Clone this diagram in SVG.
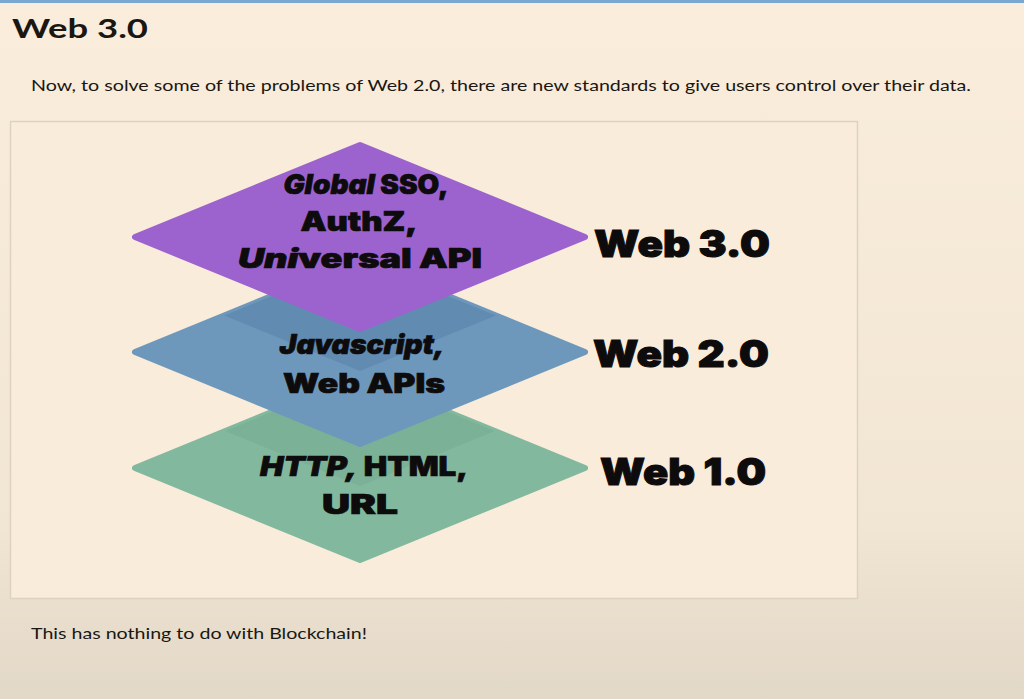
<svg xmlns="http://www.w3.org/2000/svg" width="1024" height="699" viewBox="0 0 1024 699">
  <defs>
    <linearGradient id="bg" x1="0" y1="0" x2="0" y2="1">
      <stop offset="0" stop-color="#faeddc"/>
      <stop offset="0.75" stop-color="#f1e5d3"/>
      <stop offset="1" stop-color="#e2d8c7"/>
    </linearGradient>
    <clipPath id="clipBlue"><polygon points="360,260 585,352 360,444 135,352"/></clipPath>
    <clipPath id="clipGreen"><polygon points="360,376 585,468 360,560 135,468"/></clipPath>
    <style>
      .doc { font-family: "Lato", "Liberation Sans", sans-serif; fill: #1a1712; }
      .lbl { font-family: "Inter", "Liberation Sans", sans-serif; font-weight: 900; fill: #0d0b0b; stroke: #0d0b0b; stroke-width: 0.7; text-anchor: middle; font-size: 27px; }
      .ver { font-family: "Inter", "Liberation Sans", sans-serif; font-weight: 900; fill: #0d0b0b; stroke: #0d0b0b; stroke-width: 1; font-size: 37px; }
      .it { font-style: italic; }
      .dia { stroke-linejoin: round; stroke-width: 6; }
    </style>
  </defs>
  <rect x="0" y="0" width="1024" height="699" fill="url(#bg)"/>
  <rect x="0" y="0" width="1024" height="3" fill="#7aa6d2"/>
  <text class="doc" x="12" y="38" font-size="26" font-weight="700" textLength="136" lengthAdjust="spacingAndGlyphs">Web 3.0</text>
  <text class="doc" x="31" y="91" font-size="15" textLength="940" lengthAdjust="spacingAndGlyphs">Now, to solve some of the problems of Web 2.0, there are new standards to give users control over their data.</text>
  <rect x="10.5" y="121.5" width="847" height="477" fill="#f9ecdb" stroke="#ddd2c2" stroke-width="1.5"/>

  <g id="layer-web1">
    <polygon class="dia" points="360,376 585,468 360,560 135,468" fill="#82b89e" stroke="#82b89e"/>
    <g clip-path="url(#clipGreen)">
      <polygon points="360,302 585,394 360,486 135,394" fill="#5f9478" opacity="0.2"/>
    </g>
    <text class="lbl" x="364" y="476" textLength="208" lengthAdjust="spacingAndGlyphs"><tspan class="it">HTTP,</tspan> HTML,</text>
    <text class="lbl" x="360" y="514" textLength="76" lengthAdjust="spacingAndGlyphs">URL</text>
    <text class="ver" x="600" y="485" textLength="166" lengthAdjust="spacingAndGlyphs">Web 1.0</text>
  </g>

  <g id="layer-web2">
    <polygon class="dia" points="360,260 585,352 360,444 135,352" fill="#6e98bb" stroke="#6e98bb"/>
    <g clip-path="url(#clipBlue)">
      <polygon points="360,187 585,279 360,371 135,279" fill="#3f6c98" opacity="0.28"/>
    </g>
    <text class="lbl" x="362" y="354" textLength="165" lengthAdjust="spacingAndGlyphs"><tspan class="it">Javascript,</tspan></text>
    <text class="lbl" x="364" y="393" textLength="162" lengthAdjust="spacingAndGlyphs">Web APIs</text>
    <text class="ver" x="593" y="367" textLength="176" lengthAdjust="spacingAndGlyphs">Web 2.0</text>
  </g>

  <g id="layer-web3">
    <polygon class="dia" points="360,145 585,237 360,329 135,237" fill="#9c63cf" stroke="#9c63cf"/>
    <text class="lbl" x="366" y="194" textLength="165" lengthAdjust="spacingAndGlyphs"><tspan class="it">Global</tspan> SSO,</text>
    <text class="lbl" x="359" y="231" textLength="117" lengthAdjust="spacingAndGlyphs">AuthZ,</text>
    <text class="lbl" x="360" y="268" textLength="244" lengthAdjust="spacingAndGlyphs"><tspan class="it">Uni</tspan>versal API</text>
    <text class="ver" x="594" y="257" textLength="176" lengthAdjust="spacingAndGlyphs">Web 3.0</text>
  </g>

  <g id="connectors"/>

  <text class="doc" x="31" y="639" font-size="15" textLength="336" lengthAdjust="spacingAndGlyphs">This has nothing to do with Blockchain!</text>
</svg>
